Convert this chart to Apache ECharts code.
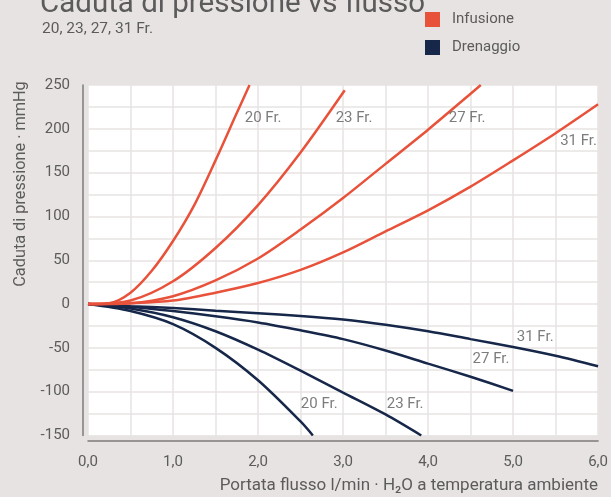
<!DOCTYPE html>
<html>
<head>
<meta charset="utf-8">
<script src="https://cdn.jsdelivr.net/npm/echarts@6/dist/echarts.min.js"></script>
<style>
html,body{margin:0;padding:0;background:#e8e3e3;}
#c{width:611px;height:497px;}
</style>
</head>
<body>
<div id="c"></div>
<script>
// ---- data ----
const titleText = 'Caduta di pressione vs flusso';
const subtitleText = '20, 23, 27, 31 Fr.';
const xAxisName = 'Portata flusso l/min · H\u2082O a temperatura ambiente';
const yAxisName = 'Caduta di pressione · mmHg';
const groupNames = ['Infusione', 'Drenaggio'];
const groupColors = ['#e9523a', '#16274a'];

// Infusione (flow l/min, pressure mmHg)
const inf20x = [0, 0.25, 0.5, 0.75, 1.0, 1.25, 1.5, 1.75, 1.9];
const inf20y = [0, 1, 13, 38, 72, 113, 164, 218, 250];
const inf23x = [0, 0.5, 1.0, 1.5, 2.0, 2.5, 3.02];
const inf23y = [0, 4, 26, 64, 113, 173, 244];
const inf27x = [0, 0.5, 1.0, 1.5, 2.0, 2.5, 3.0, 3.5, 4.0, 4.5, 4.62];
const inf27y = [0, 1, 9, 27, 52, 85, 121, 160, 199, 240, 250];
const inf31x = [0, 0.5, 1.0, 1.5, 2.0, 2.5, 3.0, 3.5, 4.0, 4.5, 5.0, 5.5, 6.0];
const inf31y = [0, 1, 4, 13, 24, 39, 59, 83, 107, 134, 164, 195, 228];

// Drenaggio
const dr20x = [0, 0.5, 1.0, 1.5, 2.0, 2.5, 2.645];
const dr20y = [0, -8, -23, -50, -87, -134, -150];
const dr23x = [0, 0.5, 1.0, 1.5, 2.0, 2.5, 3.0, 3.5, 3.92];
const dr23y = [0, -5, -15, -31, -52, -76, -101, -126, -150];
const dr27x = [0, 0.5, 1.0, 1.5, 2.0, 2.5, 3.0, 3.5, 4.0, 4.5, 5.0];
const dr27y = [0, -3, -8, -14, -21, -30, -40, -53, -68, -83, -99];
const dr31x = [0, 0.5, 1.0, 1.5, 2.0, 2.5, 3.0, 3.5, 4.0, 4.5, 5.0, 5.5, 6.0];
const dr31y = [0, -2.5, -4.5, -7.5, -10.5, -13.5, -17.5, -23.5, -31, -40, -49, -59, -71];

// curve labels
const labelTexts = ['20 Fr.', '23 Fr.', '27 Fr.', '31 Fr.', '31 Fr.', '27 Fr.', '20 Fr.', '23 Fr.'];
const labelX = [2.06, 3.13, 4.46, 5.77, 5.26, 4.74, 2.72, 3.73];
const labelY = [212, 212, 212, 186, -38, -63, -114, -114];

const xTicks = [0, 1, 2, 3, 4, 5, 6];

// ---- chart ----
const pairs = (xs, ys) => xs.map((x, i) => [x, ys[i]]);
const FONT = 'Roboto, "Noto Sans", sans-serif';

function lineSeries(name, color, xs, ys, z) {
  return {
    type: 'line', name: name, data: pairs(xs, ys),
    smooth: 0.3, showSymbol: false, symbol: 'none',
    lineStyle: { color: color, width: 2.5 }, itemStyle: { color: color },
    z: z, clip: true, silent: true
  };
}

const series = [
  lineSeries(groupNames[1], groupColors[1], dr20x, dr20y, 2),
  lineSeries(groupNames[1], groupColors[1], dr23x, dr23y, 2),
  lineSeries(groupNames[1], groupColors[1], dr27x, dr27y, 2),
  lineSeries(groupNames[1], groupColors[1], dr31x, dr31y, 2),
  lineSeries(groupNames[0], groupColors[0], inf20x, inf20y, 3),
  lineSeries(groupNames[0], groupColors[0], inf23x, inf23y, 3),
  lineSeries(groupNames[0], groupColors[0], inf27x, inf27y, 3),
  lineSeries(groupNames[0], groupColors[0], inf31x, inf31y, 3),
  {
    type: 'scatter', symbolSize: 0, silent: true, z: 5,
    data: labelTexts.map((t, i) => ({ name: t, value: [labelX[i], labelY[i]] })),
    label: {
      show: true, position: 'inside', formatter: p => p.name,
      color: '#5b5b5b', fontSize: 15, fontFamily: FONT
    }
  }
];

const chart = echarts.init(document.getElementById('c'), null, { renderer: 'canvas' });
chart.setOption({
  backgroundColor: '#e8e3e3',
  animation: false,
  textStyle: { fontFamily: FONT },
  grid: {
    left: 88, right: 12, top: 85, bottom: 61.5,
    show: true, backgroundColor: '#ffffff', borderWidth: 0
  },
  legend: {
    data: groupNames, orient: 'vertical', left: 425, top: 12, padding: 0,
    icon: 'rect', itemWidth: 15, itemHeight: 15, itemGap: 13,
    textStyle: { color: '#5b5b5b', fontSize: 15, fontFamily: FONT, padding: [0, 0, 2, 7] },
    selectedMode: false
  },
  xAxis: {
    type: 'value', min: 0, max: 6, interval: 1,
    axisLine: { show: true, onZero: false, lineStyle: { color: '#7d7b7b', width: 1.5 } },
    offset: 5,
    axisTick: { show: false },
    axisLabel: {
      color: '#5b5b5b', fontSize: 15, fontFamily: FONT, margin: 14,
      formatter: v => xTicks.indexOf(v) >= 0 ? v.toFixed(1).replace('.', ',') : ''
    },
    splitLine: { show: true, lineStyle: { color: '#e8e3e3', width: 1.5 } },
    minorTick: { show: false, splitNumber: 2 },
    minorSplitLine: { show: true, lineStyle: { color: '#e8e3e3', width: 1.5 } }
  },
  yAxis: {
    type: 'value', min: -150, max: 250, interval: 50,
    axisLine: { show: true, onZero: false, lineStyle: { color: '#7d7b7b', width: 1.5 } },
    offset: 5,
    axisTick: { show: false },
    axisLabel: { color: '#5b5b5b', fontSize: 15, fontFamily: FONT, margin: 13 },
    splitLine: { show: true, lineStyle: { color: '#e8e3e3', width: 1.5 } },
    minorTick: { show: false, splitNumber: 2 },
    minorSplitLine: { show: true, lineStyle: { color: '#e8e3e3', width: 1.5 } }
  },
  graphic: [
    { type: 'text', left: 40, top: -10, style: { text: titleText, fill: '#5b5b5b', font: '29.5px ' + FONT } },
    { type: 'text', left: 42, top: 21, style: { text: subtitleText, fill: '#5b5b5b', font: '15.5px ' + FONT } },
    { type: 'text', right: 13, top: 477, style: { text: xAxisName, fill: '#5b5b5b', font: '17px ' + FONT } },
    { type: 'text', x: 21, y: 184, rotation: Math.PI / 2,
      style: { text: yAxisName, fill: '#5b5b5b', font: '16.3px ' + FONT, align: 'center', verticalAlign: 'middle' } }
  ],
  series: series
});
</script>
</body>
</html>
